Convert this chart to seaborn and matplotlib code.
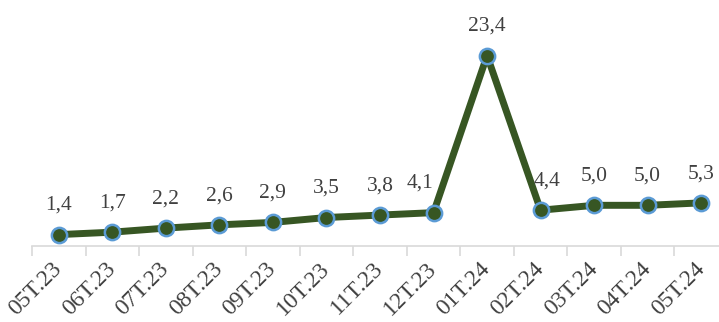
import matplotlib
matplotlib.use("Agg")
import matplotlib.pyplot as plt
import seaborn as sns
import pandas as pd
from matplotlib.ticker import FixedLocator

months = ["05T.23", "06T.23", "07T.23", "08T.23", "09T.23", "10T.23", "11T.23",
          "12T.23", "01T.24", "02T.24", "03T.24", "04T.24", "05T.24"]
values = [1.4, 1.7, 2.2, 2.6, 2.9, 3.5, 3.8, 4.1, 23.4, 4.4, 5.0, 5.0, 5.3]

df = pd.DataFrame({"x": range(len(months)), "value": values})

sns.set_style("white")
plt.rcParams["font.family"] = ["Liberation Serif", "DejaVu Serif"]

fig = plt.figure(figsize=(7.19, 3.22), dpi=100)
ax = fig.add_axes([0.0445, 0.236, 0.968, 0.632])

sns.lineplot(data=df, x="x", y="value", ax=ax, color="#375623", linewidth=5,
             marker="o", markersize=11, markerfacecolor="#375623",
             markeredgecolor="#5B9BD5", markeredgewidth=1.8)

ax.set_xlim(-0.5, 12.5)
ax.set_ylim(0, 25)

# data labels (nudge the two next to the spike like Excel does)
nudge = {7: -10, 9: 5}
for i, v in enumerate(values):
    ax.annotate(f"{v:.1f}".replace(".", ","), (i, v),
                xytext=(nudge.get(i, 0), 21), textcoords="offset points",
                ha="center", va="center", fontsize=15.5, color="#404040",
                annotation_clip=False)

for s in ["top", "right", "left"]:
    ax.spines[s].set_visible(False)
ax.spines["bottom"].set_color("#d9d9d9")
ax.spines["bottom"].set_linewidth(1.2)

ax.set_yticks([])
ax.set_xticks(range(len(months)))
ax.set_xticklabels(months, rotation=45, ha="right", va="center",
                   rotation_mode="anchor", fontsize=17, color="#404040")
ax.tick_params(axis="x", which="major", bottom=True, length=0, pad=14)
ax.xaxis.set_minor_locator(FixedLocator([i - 0.5 for i in range(len(months) + 1)]))
ax.tick_params(axis="x", which="minor", bottom=True, length=7, width=1.2,
               color="#d9d9d9", direction="out")
ax.set_xlabel("")
ax.set_ylabel("")

fig.savefig("out.png", dpi=100)
